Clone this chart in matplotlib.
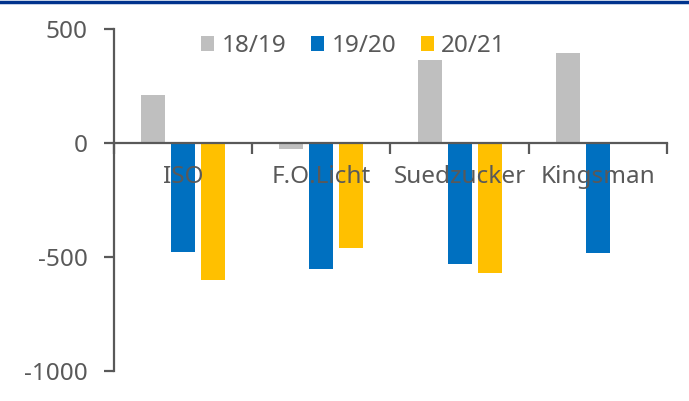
import matplotlib.pyplot as plt
import numpy as np
from matplotlib.lines import Line2D

plt.rcParams['font.family'] = ['Noto Sans', 'DejaVu Sans']

sources = ['ISO', 'F.O.Licht', 'Suedzucker', 'Kingsman']
seasons = ['18/19', '19/20', '20/21']
s1819 = [210, -26, 364, 395]
s1920 = [-478, -553, -531, -483]
s2021 = [-600, -460, -570, np.nan]
colors = ['#BFBFBF', '#0070C0', '#FFC000']
text_color = '#595959'
fs = 17.5

fig = plt.figure(figsize=(6.89, 4.01), dpi=100)
ax = fig.add_axes([0.1655, 0.0748, 0.8025, 0.8529])

x = np.arange(len(sources))
width = 0.175
step = 0.217
for i, (vals, lab) in enumerate(zip([s1819, s1920, s2021], seasons)):
    ax.bar(x + (i - 1) * step, vals, width, color=colors[i], label=lab, zorder=1)

ax.set_xlim(-0.5, len(sources) - 0.5)
ax.set_ylim(-1000, 500)
ax.set_yticks([500, 0, -500, -1000])
ax.set_yticklabels(['500', '0', '-500', '-1000'])

for s in ['top', 'right']:
    ax.spines[s].set_visible(False)
ax.spines['bottom'].set_position(('data', 0))
for s in ['left', 'bottom']:
    ax.spines[s].set_color(text_color)
    ax.spines[s].set_linewidth(1.6)
    ax.spines[s].set_zorder(3)

ax.set_xticks(np.arange(len(sources) + 1) - 0.5)
ax.set_xticklabels([])
ax.set_xticks(x, minor=True)
ax.set_xticklabels(sources, minor=True)
ax.tick_params(axis='x', which='major', direction='out', length=8, width=1.6, color=text_color)
ax.tick_params(axis='x', which='minor', length=0, pad=16, labelsize=fs, labelcolor=text_color)
ax.tick_params(axis='y', direction='out', length=7, width=1.6, color=text_color,
               labelsize=fs, labelcolor=text_color, pad=12)

leg = fig.legend(loc='center', bbox_to_anchor=(0.513, 0.885), ncol=3, frameon=False,
                 fontsize=fs, handlelength=0.55, handleheight=0.55, handletextpad=0.3,
                 columnspacing=1.0, labelcolor=text_color)

fig.add_artist(Line2D([0, 1], [0.995, 0.995], color='#00338D', linewidth=2.5,
                      transform=fig.transFigure))

fig.savefig('out.png', dpi=100)
